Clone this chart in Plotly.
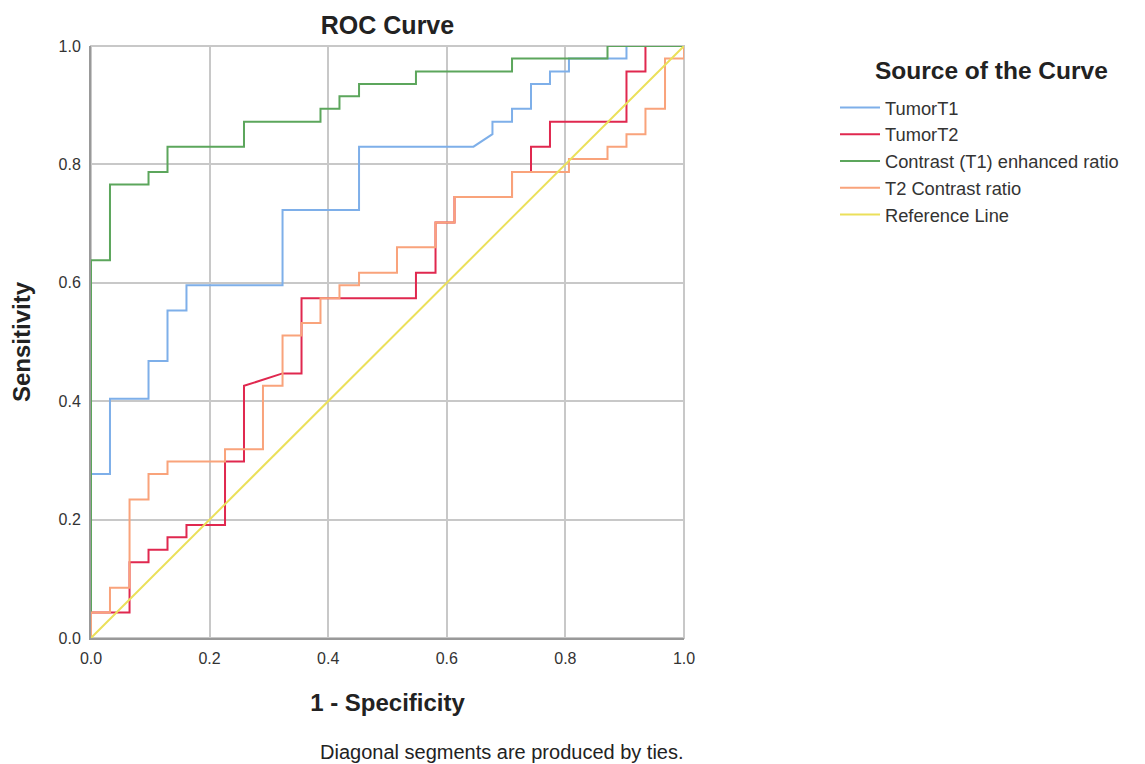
import plotly.graph_objects as go

# ---- data (1 - specificity, sensitivity) ----
t1_fpr = [0, 0, .032, .032, .097, .097, .129, .129, .161, .161, .323, .323, .452, .452,
          .645, .677, .677, .710, .710, .742, .742, .774, .774, .806, .806, .903, .903, 1]
t1_tpr = [0, .277, .277, .404, .404, .468, .468, .553, .553, .596, .596, .723, .723, .830,
          .830, .851, .872, .872, .894, .894, .936, .936, .957, .957, .979, .979, 1, 1]

t2_fpr = [0, 0, .065, .065, .097, .097, .129, .129, .161, .161, .226, .226, .258, .258,
          .323, .355, .355, .548, .548, .581, .581, .613, .613, .710, .710, .742, .742,
          .774, .774, .903, .903, .935, .935, 1]
t2_tpr = [0, .043, .043, .128, .128, .149, .149, .170, .170, .191, .191, .298, .298, .426,
          .447, .447, .574, .574, .617, .617, .702, .702, .745, .745, .787, .787, .830,
          .830, .872, .872, .957, .957, 1, 1]

ce_fpr = [0, 0, .032, .032, .097, .097, .129, .129, .258, .258, .387, .387, .419, .419,
          .452, .452, .548, .548, .710, .710, .871, .871, 1]
ce_tpr = [0, .638, .638, .766, .766, .787, .787, .830, .830, .872, .872, .894, .894, .915,
          .915, .936, .936, .957, .957, .979, .979, 1, 1]

t2c_fpr = [0, 0, .032, .032, .065, .065, .097, .097, .129, .129, .226, .226, .290, .290,
           .323, .323, .355, .355, .387, .387, .419, .419, .452, .452, .516, .516, .581,
           .581, .613, .613, .710, .710, .806, .806, .871, .871, .903, .903, .935, .935,
           .968, .968, 1, 1]
t2c_tpr = [0, .043, .043, .085, .085, .234, .234, .277, .277, .298, .298, .319, .319, .426,
           .426, .511, .511, .532, .532, .574, .574, .596, .596, .617, .617, .660, .660,
           .702, .702, .745, .745, .787, .787, .809, .809, .830, .830, .851, .851, .894,
           .894, .979, .979, 1]

ref_x = [0, 1]
ref_y = [0, 1]

series_names = ["TumorT1", "TumorT2", "Contrast (T1) enhanced ratio",
                "T2 Contrast ratio", "Reference Line"]
series_colors = ["#7eafe9", "#e0284f", "#5ca65c", "#f9a37b", "#ebe05a"]
tick_vals = [0.0, 0.2, 0.4, 0.6, 0.8, 1.0]
tick_text = ["0.0", "0.2", "0.4", "0.6", "0.8", "1.0"]

FONT = "Liberation Sans, Arial, sans-serif"

# page has an 8px body margin, so the figure is 8px smaller than the window
W, H = 1137, 756

fig = go.Figure()
for (xs, ys), name, col in zip(
        [(t1_fpr, t1_tpr), (t2_fpr, t2_tpr), (ce_fpr, ce_tpr),
         (t2c_fpr, t2c_tpr), (ref_x, ref_y)],
        series_names, series_colors):
    fig.add_trace(go.Scatter(x=xs, y=ys, mode="lines", name=name,
                             line=dict(color=col, width=2)))

axis_common = dict(
    range=[0, 1], tickvals=tick_vals, ticktext=tick_text,
    showgrid=True, gridcolor="#c8c8c8", gridwidth=2,
    showline=True, linecolor="#999999", linewidth=2,
    ticks="", zeroline=False, ticklabelstandoff=5,
    tickfont=dict(family=FONT, size=16, color="#333333"),
)

fig.update_layout(
    width=W, height=H,
    paper_bgcolor="white", plot_bgcolor="white",
    margin=dict(l=83, r=461, t=38, b=126),
    title=dict(text="<b>ROC Curve</b>", x=0.5, xref="paper", xanchor="center",
               y=1 - 17 / H, yref="container", yanchor="middle",
               font=dict(family=FONT, size=25, color="#222222")),
    xaxis=dict(**axis_common,
               title=dict(text="<b>1 - Specificity</b>", standoff=28,
                          font=dict(family=FONT, size=24, color="#222222"))),
    yaxis=dict(**axis_common,
               title=dict(text="<b>Sensitivity</b>", standoff=22,
                          font=dict(family=FONT, size=24, color="#222222"))),
    legend=dict(
        x=(835 - 91) / 593, xanchor="left",
        y=(638 - 89) / 592, yanchor="top",
        font=dict(family=FONT, size=18.3, color="#333333"),
        itemwidth=40, bgcolor="rgba(0,0,0,0)", tracegroupgap=0,
    ),
    showlegend=True,
    annotations=[
        dict(text="<b>Source of the Curve</b>",
             xref="paper", yref="paper", x=(991 - 91) / 593, y=(638 - 70) / 592,
             xanchor="center", yanchor="middle", showarrow=False,
             font=dict(family=FONT, size=24.5, color="#222222")),
        dict(text="Diagonal segments are produced by ties.",
             xref="paper", yref="paper", x=(502 - 91) / 593, y=-(752 - 638) / 592,
             xanchor="center", yanchor="middle", showarrow=False,
             font=dict(family=FONT, size=20, color="#222222")),
    ],
    shapes=[dict(type="rect", xref="paper", yref="paper", x0=0, y0=0, x1=1, y1=1,
                 line=dict(color="#c8c8c8", width=2), layer="below")],
)

fig.write_html("out.html", config={"displayModeBar": False})
